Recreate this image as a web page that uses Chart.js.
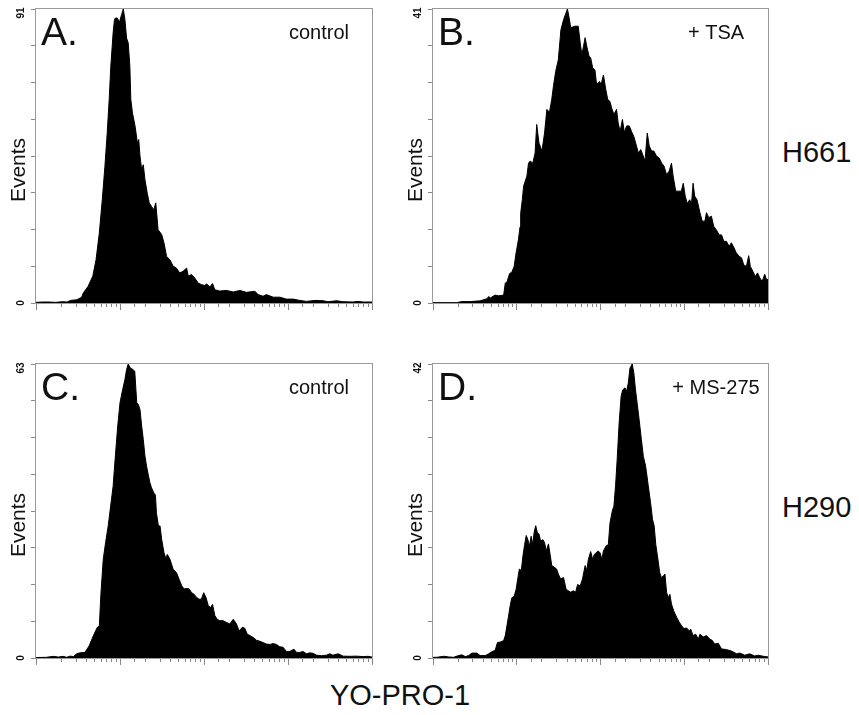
<!DOCTYPE html>
<html>
<head>
<meta charset="utf-8">
<script src="https://cdn.jsdelivr.net/npm/chart.js@4/dist/chart.umd.min.js"></script>
<style>
  html, body { margin: 0; padding: 0; background: #fff; }
  #wrap { position: relative; width: 859px; height: 715px; overflow: hidden; }
  canvas { position: absolute; }
  .lbl { position: absolute; font-family: "Liberation Sans", Arial, sans-serif; font-size: 29px; line-height: 29px; color: #111; white-space: nowrap; }
</style>
</head>
<body>
<div id="wrap">
  <canvas id="cA" width="380" height="320" style="left:0;top:0"></canvas>
  <canvas id="cB" width="380" height="320" style="left:397px;top:0"></canvas>
  <canvas id="cC" width="380" height="320" style="left:0;top:355px"></canvas>
  <canvas id="cD" width="380" height="320" style="left:397px;top:355px"></canvas>
  <div class="lbl" style="left:782px;top:138px">H661</div>
  <div class="lbl" style="left:782px;top:493px">H290</div>
  <div class="lbl" style="left:250px;width:300px;text-align:center;top:681px">YO-PRO-1</div>
</div>
<script>
// channels: 1024 channels over 4 log decades; counts
const aCh = [0,20,40,60,80,95,105,115,124,134,139,144,159,173,183,193,202,210,217,223,228,235,239,242,248,254,261,266,271,276,281,286,289,294,302,309,313,317,322,327,332,339,345,352,359,365,372,383,390,398,408,418,428,438,448,459,464,474,484,494,504,514,520,530,538,545,560,581,601,621,641,667,677,692,702,723,743,763,784,804,824,850,875,890,916,936,966,981,997,1024];
const aCnt = [0.2,0.3,0.3,0.2,0.4,0.3,0.8,0.9,1.0,1.5,1.8,3.1,5.2,8.3,13.4,21.7,32.0,42.3,52.6,63.0,73.3,83.6,87.7,88.2,88.2,86.9,89.3,91,87.7,82,80.5,73.3,63,58.8,54.7,49.5,50.6,45.4,41.3,42.8,38.2,34,31,29.9,28.9,31,22.7,21.2,18.6,14.4,13.4,11.4,10.8,9.3,9.8,10.8,8.3,8.8,7.7,6.2,5.7,5.4,5.9,5.0,6.0,4.1,3.7,3.9,3.4,3.9,3.3,3.6,2.6,2.1,2.6,1.8,1.8,1.2,1.2,0.8,0.5,0.8,0.7,0.4,0.7,0.4,0.3,0.5,0.3,0.3];

const bCh = [0,73,88,114,144,165,170,175,190,200,216,221,226,234,241,248,254,261,266,268,273,277,282,287,292,297,305,312,317,324,333,341,348,356,363,368,375,383,391,399,406,411,416,421,427,434,444,450,455,460,465,470,477,482,488,495,500,509,514,521,528,534,541,546,553,561,566,572,579,585,592,600,607,614,622,628,635,641,648,655,661,668,675,683,692,699,706,714,722,729,734,742,751,759,765,771,777,785,790,795,800,807,816,823,831,836,843,851,858,866,875,882,889,897,905,912,919,927,936,943,950,958,965,970,978,985,992,999,1006,1014,1019,1024];
const bCnt = [0.05,0.05,0.2,0.2,0.3,0.6,0.9,0.7,1.1,1.0,1.1,2.8,2.9,4.1,4.3,5.1,7.0,8.8,10.6,12.5,14.4,16.3,17.0,17.7,19.5,19.8,19.5,20.9,24.9,22.3,21.2,23.7,27.0,26.6,28.4,30.2,32.3,33.9,38.1,39.5,40.4,41.0,39.8,38.4,38.5,38.6,38.6,36.3,34.6,35.8,37.0,35.8,34.4,34.2,32.8,32.5,30.5,30.9,30.5,31.8,29.8,28.4,28.1,27.2,26.3,27.0,25.1,23.9,25.6,23.8,24.7,24.7,23.9,23.2,21.9,20.9,21.4,20.7,19.8,23.7,21.9,21.2,21.2,20.5,20.2,19.5,19.1,17.9,18.4,19.5,17.7,15.6,15.6,15.6,16.7,14.9,13.9,14.4,13.7,16.7,14.9,14.4,12.6,11.4,11.4,12.6,11.9,12.1,10.7,10.2,9.5,9.5,8.6,8.6,7.9,8.4,7.8,7.0,6.5,6.3,5.3,5.1,6.6,5.1,4.4,3.7,4.2,3.5,3.0,4.0,3.3,3.3];

const cCh = [0,32,53,68,83,93,104,114,124,134,149,162,175,187,193,198,205,212,220,230,235,241,249,256,264,271,276,281,288,296,301,307,312,317,322,327,332,337,342,347,352,359,364,367,373,378,383,390,396,400,408,418,428,436,444,451,459,467,474,481,489,497,504,511,518,525,532,538,545,552,560,570,581,591,601,611,619,629,636,644,652,662,672,682,692,702,713,723,733,743,753,763,773,786,794,804,814,824,834,844,855,870,885,895,905,921,936,956,976,997,1012,1024];
const cCnt = [0.1,0.15,0.35,0.2,0.35,0.15,0.4,0.3,0.9,1.1,1.2,2.6,4.8,6.6,6.9,14.0,21.2,24.7,28.3,34.0,36.8,42.5,49.7,54.7,57.5,59.7,61.8,63.0,62.1,61.8,61.4,54.7,54.3,53.2,49.7,46.8,43.3,41.1,39.3,37.6,36.5,35.4,34.9,31.1,28.3,28.3,25.4,22.6,21.2,22.2,21.2,19.0,18.3,16.9,15.5,14.8,14.9,14.8,14.0,13.7,13.0,12.6,12.6,14.0,13.0,11.2,10.8,11.5,9.1,8.3,8.0,8.0,7.6,7.3,8.3,7.3,5.8,6.6,6.4,5.1,4.8,4.4,3.8,3.6,3.3,3.0,2.9,3.1,2.9,2.4,2.3,1.4,1.4,1.9,1.2,1.2,1.4,0.9,1.1,1.0,0.6,0.5,0.6,0.9,0.6,0.9,0.4,0.36,0.4,0.3,0.36,0.2];

const dCh = [0,12,33,48,63,78,88,99,109,119,134,144,160,170,180,190,197,207,216,221,226,231,236,241,248,254,259,264,270,275,280,285,290,295,300,305,309,314,319,324,329,336,341,346,353,358,363,370,378,383,390,399,407,414,421,429,436,442,450,457,465,470,475,482,488,493,498,505,511,516,521,529,536,541,548,553,558,563,569,575,580,587,592,597,602,609,614,619,624,630,637,643,650,658,665,671,676,681,686,693,698,704,709,714,719,724,729,736,745,753,760,767,775,783,788,795,803,811,816,826,836,846,854,861,872,882,897,912,928,938,953,968,983,994,1009,1024];
const dCnt = [0.1,0.1,0.25,0.15,0.1,0.35,0.45,0.2,0.35,0.7,0.7,0.35,0.35,0.6,0.9,1.1,2.2,2.3,2.5,3.2,4.6,6.0,7.5,8.6,8.8,9.8,11.3,12.7,12.5,14.6,16.2,17.5,16.9,16.0,17.4,16.2,17.9,18.9,17.9,17.7,16.7,16.9,16.5,15.3,16.3,14.8,13.2,13.0,12.7,12.0,11.3,11.5,9.8,9.6,9.4,9.6,9.4,10.5,10.3,11.3,13.2,12.5,14.1,15.2,14.1,14.8,15.0,15.3,15.0,14.1,15.3,16.0,16.2,19.3,21.0,21.7,24.6,28.4,33.6,37.4,38.3,38.6,38.1,39.3,41.4,42.0,40.7,38.3,36.4,34.1,31.2,28.8,27.4,24.6,22.2,19.8,18.9,16.2,14.6,12.2,11.5,11.7,12.0,9.4,8.6,9.1,7.7,6.7,5.8,5.1,4.6,4.2,4.3,3.9,4.1,3.2,3.4,2.7,3.4,3.0,3.2,2.7,2.5,2.0,2.1,1.3,1.2,1.0,0.6,0.7,0.4,0.6,0.3,0.4,0.25,0.15];

const panelMax = [91, 41, 63, 42];
const panelLetters = ["A.", "B.", "C.", "D."];
const panelNotes = ["control", "+ TSA", "control", "+ MS-275"];

const FONT = '"Liberation Sans", Arial, sans-serif';
const FRAME = "#9a9a9a";

// frame, panel letter, note, "Events" and the two y labels
const panelDecor = {
  id: "panelDecor",
  beforeDatasetsDraw(chart) {
    const { ctx, chartArea: a } = chart;
    ctx.save();
    ctx.strokeStyle = FRAME;
    ctx.lineWidth = 1;
    ctx.strokeRect(Math.round(a.left) - 0.5, Math.round(a.top) - 0.5,
      Math.round(a.right - a.left) + 1, Math.round(a.bottom - a.top) + 1);
    ctx.restore();
  },
  afterDraw(chart, args, opts) {
    const { ctx, chartArea: a } = chart;
    const y = chart.scales.y;
    ctx.save();
    ctx.fillStyle = "#111";
    ctx.textBaseline = "alphabetic";

    ctx.font = "39px " + FONT;
    ctx.textAlign = "left";
    ctx.fillText(opts.letter, a.left + 5, a.top + 36);

    ctx.font = "20px " + FONT;
    ctx.textAlign = "center";
    ctx.fillText(opts.note, a.left + 283, a.top + 30);

    // rotated texts
    const rot = (text, x, yy, font) => {
      ctx.save();
      ctx.translate(x, yy);
      ctx.rotate(-Math.PI / 2);
      ctx.font = font;
      ctx.textAlign = "center";
      ctx.fillText(text, 0, 0);
      ctx.restore();
    };
    rot("Events", 25, a.top + 161, "21px " + FONT);
    rot(String(y.max), 24, y.getPixelForValue(y.max) + 4, "bold 10px " + FONT);
    rot(String(y.min), 24, y.getPixelForValue(y.min), "bold 10px " + FONT);
    ctx.restore();
  }
};

function isDecade(v) {
  const l = Math.log10(v);
  return Math.abs(l - Math.round(l)) < 1e-9;
}

function makePanel(id, ch, cnt, idx, padRight) {
  new Chart(document.getElementById(id), {
    type: "line",
    data: {
      datasets: [{
        data: ch.map((c, i) => ({ x: c, y: cnt[i] })),
        borderColor: "#000",
        backgroundColor: "#000",
        borderWidth: 1,
        pointRadius: 0,
        tension: 0,
        fill: "origin"
      }]
    },
    options: {
      responsive: false,
      animation: false,
      events: [],
      layout: { padding: { top: 9, right: padRight, left: 0, bottom: 0 } },
      plugins: {
        legend: { display: false },
        tooltip: { enabled: false },
        panelDecor: { letter: panelLetters[idx], note: panelNotes[idx] }
      },
      scales: {
        x: { type: "linear", min: 0, max: 1024, display: false },
        xt: {
          type: "logarithmic",
          position: "bottom",
          min: 1,
          max: 10000,
          afterFit: s => { s.height = 17; },
          border: { display: false },
          ticks: { display: false, autoSkip: false },
          grid: {
            drawOnChartArea: false,
            drawTicks: true,
            tickLength: 7,
            tickColor: "#888",
            tickWidth: 1,
            tickBorderDash: c => (c.tick && isDecade(c.tick.value)) ? [] : [4, 20]
          }
        },
        y: {
          type: "linear",
          min: 0,
          max: panelMax[idx],
          afterFit: s => { s.width = 36; },
          border: { display: false },
          ticks: { display: false, count: 9 },
          grid: {
            drawOnChartArea: false,
            drawTicks: true,
            tickLength: 5,
            tickColor: "#888",
            tickWidth: 1
          }
        }
      }
    },
    plugins: [panelDecor]
  });
}

makePanel("cA", aCh, aCnt, 0, 8);
makePanel("cB", bCh, bCnt, 1, 9);
makePanel("cC", cCh, cCnt, 2, 8);
makePanel("cD", dCh, dCnt, 3, 9);
</script>
</body>
</html>
